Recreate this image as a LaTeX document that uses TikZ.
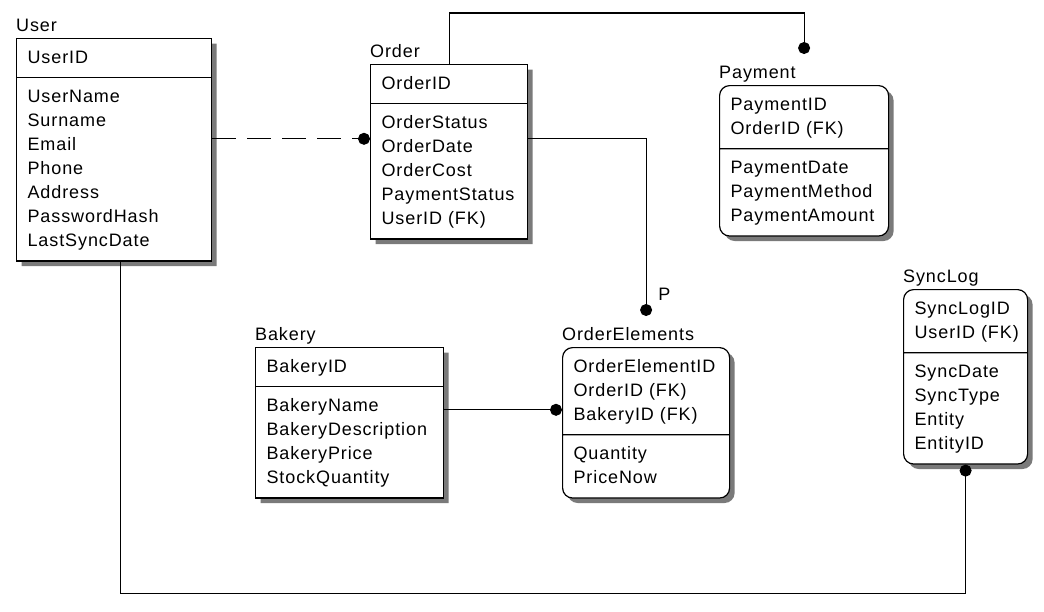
\documentclass[tikz,border=0pt]{standalone}
\usepackage{fontspec}
\setmainfont{Liberation Sans}[LetterSpace=5]
\usetikzlibrary{shapes.multipart,shadows,arrows.meta}
\tikzset{
 entity/.style={rectangle split,rectangle split parts=2,draw,line width=1.2pt,fill=white,
  inner xsep=11pt,inner ysep=7pt,align=left,anchor=north west,
  general shadow={fill=shade,shadow xshift=5pt,shadow yshift=-5pt}},
 weak/.style={entity,rounded corners=10pt},
 etitle/.style={anchor=base west,inner sep=0pt},
 rel/.style={line width=1.1pt,-{Circle[length=12pt]}}
}
\begin{document}
\begin{tikzpicture}[x=1pt,y=-1pt,font=\fontsize{18}{24}\selectfont]
 \definecolor{shade}{HTML}{7A7A7A}
 \useasboundingbox (0,0) rectangle (1044,611);
 \node[entity,text width=173pt] (user) at (16,38) {\strut UserID\strut
  \nodepart{second}\strut UserName\\Surname\\Email\\Phone\\Address\\PasswordHash\\LastSyncDate\strut};
 \node[entity,text width=135pt] (ordr) at (370,64) {\strut OrderID\strut
  \nodepart{second}\strut OrderStatus\\OrderDate\\OrderCost\\PaymentStatus\\UserID (FK)\strut};
 \node[weak,text width=147pt] (pay) at (719,85) {\strut PaymentID\\OrderID (FK)\strut
  \nodepart{second}\strut PaymentDate\\PaymentMethod\\PaymentAmount\strut};
 \node[entity,text width=166pt] (bak) at (255,347) {\strut BakeryID\strut
  \nodepart{second}\strut BakeryName\\BakeryDescription\\BakeryPrice\\StockQuantity\strut};
 \node[weak,text width=145pt] (oe) at (562,347) {\strut OrderElementID\\OrderID (FK)\\BakeryID (FK)\strut
  \nodepart{second}\strut Quantity\\PriceNow\strut};
 \node[weak,text width=102pt] (sl) at (903,289) {\strut SyncLogID\\\mbox{UserID (FK)}\strut
  \nodepart{second}\strut SyncDate\\SyncType\\Entity\\EntityID\strut};
 \node[etitle] (usert) at ([yshift=7pt]user.north west) {User};
 \node[etitle] (ordrt) at ([yshift=7pt]ordr.north west) {Order};
 \node[etitle] (payt) at ([yshift=7pt]pay.north west) {Payment};
 \node[etitle] (bakt) at ([yshift=7pt]bak.north west) {Bakery};
 \node[etitle] (oet) at ([yshift=7pt]oe.north west) {OrderElements};
 \node[etitle] (slt) at ([yshift=7pt]sl.north west) {SyncLog};
 \coordinate (uo) at ([yshift=13pt]ordr.west);
 \coordinate (pt) at ([yshift=31pt]pay.north);
 \coordinate (et) at ([yshift=31pt]oe.north);
 \coordinate (be) at ([yshift=13pt]oe.west);
 \draw[rel,dash pattern=on 24pt off 11pt] (user.east |- uo) -- (uo);
 \draw[rel] (ordr.north) -- ++(0,-51) -| (pt);
 \draw[rel] (ordr.east |- uo) -| (et);
 \node[etitle] (p) at ([xshift=12pt,yshift=16pt]et) {P};
 \draw[rel] (bak.east |- be) -- (be);
 \draw[rel] ([xshift=6pt]user.south) -- ++(0,332) -| (sl.south);
\end{tikzpicture}
\end{document}
